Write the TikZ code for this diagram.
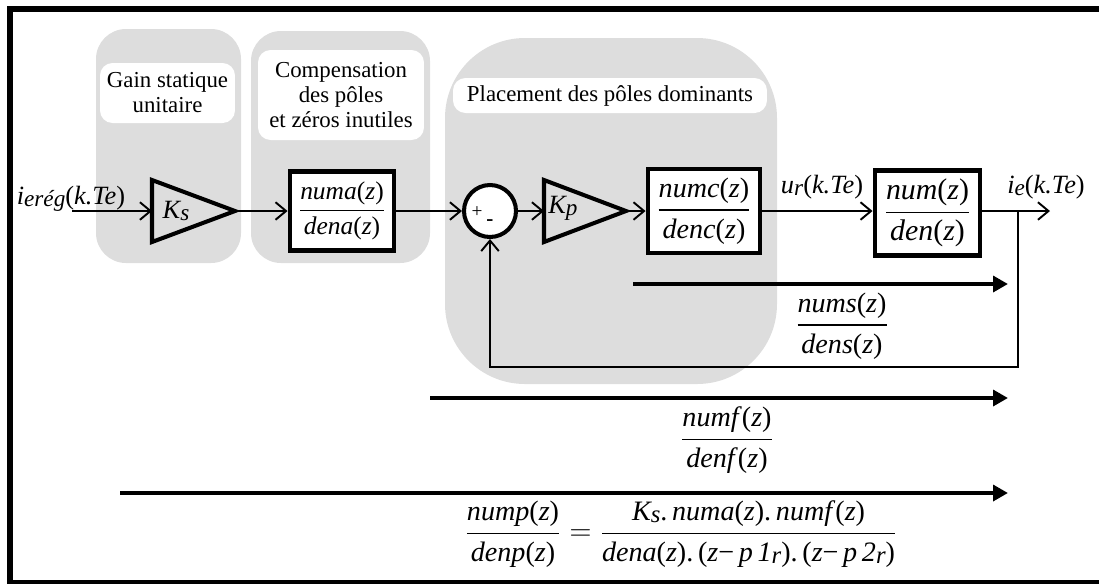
\documentclass[tikz,border=0pt]{standalone}
\usepackage{amsmath}
\usepackage{fontspec}
\setmainfont{Liberation Serif}
\usetikzlibrary{arrows.meta,positioning}
\definecolor{PanelGrey}{RGB}{221,221,221}

\newcommand{\sbs}[1]{\raisebox{-0.15ex}{\scalebox{0.88}{#1}}}
\newcommand{\fz}[1]{\textit{#1}(\textit{z})}
\newcommand{\blkfrac}[2]{$\displaystyle\frac{\text{#1}}{\text{#2}}$}

\begin{document}
\begin{tikzpicture}[x=0.02cm, y=-0.02cm, >={Straight Barb[length=6pt,width=10pt]},
    panel/.style={fill=PanelGrey, rounded corners=0.6cm},
    title/.style={fill=white, rounded corners=0.25cm, inner sep=0pt, align=center, font=\fontsize{13}{14.2}\selectfont},
    tfbox/.style={draw, line width=2.8pt, fill=white, inner sep=0pt, font=\fontsize{14.5}{17}\selectfont},
    tflabel/.style={inner sep=0pt, font=\fontsize{16}{18}\selectfont},
    gain/.style={draw, line width=2.3pt, line join=miter},
    sumnode/.style={draw, circle, line width=2.3pt, fill=white, minimum size=1.04cm, inner sep=0pt},
    sig/.style={line width=1.1pt},
    tfarrow/.style={line width=2.8pt, -{Triangle[length=8.5pt,width=9pt]}},
    lbl/.style={font=\fontsize{15}{17}\selectfont}]
    \useasboundingbox (0,0) rectangle (1099,583);
    \draw[line width=3.4pt] (1110,9) -- (10,9) -- (10,583) -- (1110,583);

    % grey zones
    \fill[panel] (96,29) rectangle (241,263);
    \fill[panel] (251,31) rectangle (430,263);
    \fill[panel, rounded corners=1.6cm] (445,38) rectangle (777,384);
    \node[title, minimum width=2.7cm, minimum height=1.2cm] (tgain) at (167.5,93) {Gain statique\\unitaire};
    \node[title, minimum width=3.32cm, minimum height=1.8cm] (tcomp) at (341,95) {Compensation\\des pôles\\et zéros inutiles};
    \node[title, minimum width=6.28cm, minimum height=0.7cm] (tplac) at (610,95.5) {Placement des pôles dominants};

    % blocks
    \coordinate (ksin) at (152,211);
    \coordinate (ksout) at (235,211);
    \draw[gain] (152,180) -- (ksout) -- (152,242) -- cycle;
    \node[lbl] (ks) at (176,211) {\textit{K\sbs{s}}};
    \node[tfbox, minimum width=2.08cm, minimum height=1.58cm] (numa) at (342,211) {\blkfrac{\fz{numa}}{\fz{dena}}};
    \node[sumnode] (sum) at (490,211) {};
    \node[font=\fontsize{11}{12}\selectfont] (plus) at (477,212) {+};
    \node[font=\fontsize{12}{12}\selectfont\bfseries] (minus) at (490,223) {-};
    \coordinate (kpin) at (544,211);
    \coordinate (kpout) at (626,211);
    \draw[gain] (544,180) -- (kpout) -- (544,242) -- cycle;
    \node[lbl] (kp) at (563,208) {\textit{K\sbs{p}}};
    \node[tfbox, minimum width=2.24cm, minimum height=1.68cm, font=\fontsize{16}{18}\selectfont] (numc) at (704,211) {\blkfrac{\fz{numc}}{\fz{denc}}};
    \node[tfbox, minimum width=2.1cm, minimum height=1.7cm, font=\fontsize{17}{19}\selectfont] (num) at (927.5,213) {\blkfrac{\fz{num}}{\fz{den}}};

    % signals
    \coordinate (inp) at (72,211);
    \coordinate (br) at (1018,211);
    \coordinate (out) at (1050,211);
    \coordinate (fb) at (1018,367);
    \node[lbl] (lin) at (71,199) {\textit{i}\sbs{\textit{erég}}(\textit{k.Te})};
    \node[lbl] (lur) at (822,187) {\textit{u}\sbs{\textit{r}}(\textit{k.Te})};
    \node[lbl] (lie) at (1046,187) {\textit{i}\sbs{\textit{e}}(\textit{k.Te})};
    \draw[sig,->] (inp) -- (ksin);
    \draw[sig,->] (ksout) -- (numa);
    \draw[sig,->] (numa) -- (sum);
    \draw[sig,->] (sum) -- (kpin);
    \draw[sig,->] (kpout) -- (numc);
    \draw[sig,->] (numc) -- (num.west |- numc);
    \draw[sig,->] (num.east |- out) -- (out);
    \draw[sig,->] (br) -- (fb) -- (fb -| sum) -- (sum);

    % transfer functions
    \coordinate (s0) at (633,284);
    \coordinate (s1) at (1008,284);
    \draw[tfarrow] (s0) -- (s1);
    \node[tflabel] (fs) at (842,326) {\blkfrac{\fz{nums}}{\fz{dens}}};
    \coordinate (f0) at (430,398);
    \coordinate (f1) at (1008,398);
    \draw[tfarrow] (f0) -- (f1);
    \node[tflabel] (ff) at (727,440) {\blkfrac{\fz{numf}}{\fz{denf}}};
    \coordinate (p0) at (120,493);
    \coordinate (p1) at (1008,493);
    \draw[tfarrow] (p0) -- (p1);
    \node[tflabel] (fp) at (681,534) {$\displaystyle\frac{\text{\fz{nump}}}{\text{\fz{denp}}}=\frac{\text{\textit{K\sbs{s}}.\,\fz{numa}.\,\fz{numf}}}{\text{\fz{dena}.\,(\textit{z}−\,\textit{p\,1\sbs{r}}).\,(\textit{z}−\,\textit{p\,2\sbs{r}})}}$};
\end{tikzpicture}
\end{document}
